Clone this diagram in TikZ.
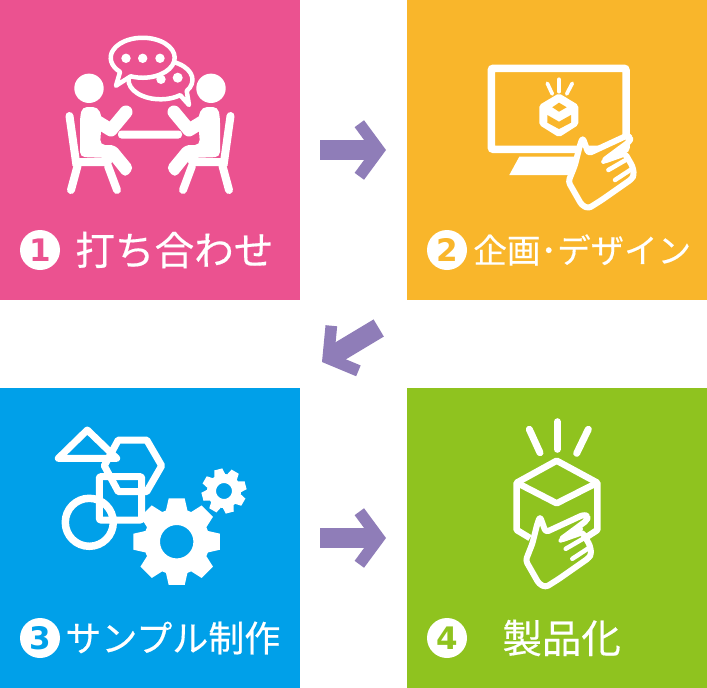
\documentclass[tikz,border=0pt]{standalone}
\usepackage{fontspec}
\setmainfont{Noto Sans CJK JP}[FakeBold=0.35]
\newfontfamily\digitfont{DejaVu Sans}
\usetikzlibrary{arrows.meta, positioning}

\definecolor{panelpink}{HTML}{EB5290}
\definecolor{panelorange}{HTML}{F9B62B}
\definecolor{panelblue}{HTML}{00A0E9}
\definecolor{panelgreen}{HTML}{8FC31F}
\definecolor{arrowpurple}{HTML}{8F7DB8}

\tikzset{
    pics/sitter/.style={code={
        \fill[white] (89,88.3) circle[radius=14.7];
        \fill[white, rounded corners=5] (80,118) -- (82,107) -- (98,107) -- (102,118) -- (100,145)
            -- (115,145) -- (134,168) -- (125,178) -- (109,158) -- (80,157) -- cycle;
        \draw[white, line width=13, line cap=round, line join=round] (93,119) -- (111,130) -- (126,112);
        \draw[white, line width=8, line cap=round] (69.5,116) -- (76,162) -- (108,162);
        \draw[white, line width=8, line cap=round] (77.5,166) -- (71,190);
        \draw[white, line width=8, line cap=round] (108,166) -- (117,190);
    }},
    pics/hand/.style={code={
        \draw[white, fill=#1, line width=6, line join=round, rounded corners=3]
            (0,0) -- (5.7,15.7) -- (44,-2) -- (48,0) -- (46.7,4) -- (20.7,23.3)
            -- (42.3,15.7) -- (50,29) -- (51.3,37.3) -- (49,41.3) -- (19,62.3) -- (5.7,70.7)
            -- (-1,67.3) -- (-14.3,44) -- (-7.7,27.3) -- (-2.7,7.3) -- cycle;
        \draw[white, line width=4.5, line cap=round] (20.7,24) -- (40.7,12.3);
        \draw[white, line width=4.5, line cap=round] (25.7,32.3) -- (45.7,20.7);
        \draw[white, line width=4.5, line cap=round] (32.3,42.3) -- (50,30.7);
    }},
    pics/gear/.style n args={3}{code={
        \fill[white, even odd rule] (-19:#2)
            \foreach \ang in {0,45,...,315} {
                -- (\ang-19:#2) -- (\ang-10.5:#1) -- (\ang+10.5:#1) -- (\ang+19:#2)
            } -- cycle
            (0,0) circle[radius=#3];
    }}
}

\begin{document}
\begin{tikzpicture}[
    x=1pt, y=-1pt,
    panel/.style={rectangle, minimum size=300pt, inner sep=0pt, outer sep=0pt},
    badge/.style={circle, fill=white, minimum size=40pt, inner sep=0pt,
        font=\digitfont\bfseries\fontsize{31}{31}\selectfont},
    caption/.style={text=white, inner sep=0pt, anchor=west},
    flowarrow/.style={draw=arrowpurple, line width=20pt,
        -{Straight Barb[length=19.4pt, width=52.6pt, line width=11.7pt]}},
    outline/.style={draw=white, line width=7pt, line join=round},
    bubble/.style={draw=white, fill=panelpink, line width=4.5pt, line join=round}
]
\useasboundingbox (0,0) rectangle (707,688);

\node (Meeting) [panel, fill=panelpink] at (150,150) {};
\node (Design) [panel, fill=panelorange] at (557,150) {};
\node (Sample) [panel, fill=panelblue] at (150,538) {};
\node (Product) [panel, fill=panelgreen] at (557,538) {};

% arrows between the panels
\coordinate (TurnStart) at (378.7,328);
\coordinate (TurnEnd) at (322,362);
\draw[flowarrow] ([xshift=20pt]Meeting.east) -- ([xshift=-21pt]Design.west);
\draw[flowarrow] (TurnStart) -- (TurnEnd);
\draw[flowarrow] ([xshift=20pt]Sample.east) -- ([xshift=-21pt]Product.west);

% meeting
\pic at (0,0) {sitter};
\pic[xscale=-1] at (300,0) {sitter};
\fill[white, rounded corners=3.5pt] (118,130.5) rectangle (182,138.5);
\draw[bubble] (186.7,91) arc[start angle=35, end angle=-308, x radius=32, y radius=19.5] -- (189,105) -- cycle;
\fill[white] (177.7,77.7) circle[radius=5];
\fill[white] (161,79.3) circle[radius=4.7];
\draw[bubble] (130.7,76.3) arc[start angle=112, end angle=-225, x radius=32, y radius=20] -- (116,85.7) -- cycle;
\foreach \dotx in {126,142.7,160}
    \fill[white] (\dotx,58.3) circle[radius=4.7];

% design
\draw[white, line width=7.5pt, rounded corners=2pt] (491.3,68.3) rectangle (626,149.3);
\fill[white] (519.3,156.7) -- (576.7,156.7) -- (575,175) -- (509.3,175) -- cycle;
\fill[white, rounded corners=2pt] (559,93.3) -- (578.3,105) -- (578.3,125) -- (559,137.3) -- (539.3,125) -- (539.3,105) -- cycle;
\fill[panelorange] (552.3,107.3) -- (559,102.7) -- (566.7,107.3) -- (559,111.7) -- cycle;
\fill[panelorange] (547.3,115) -- (559,121.7) -- (571,115) -- (571,122.7) -- (559,129) -- (547.3,122.7) -- cycle;
\draw[white, line width=3.7pt, line cap=round] (547.3,83.3) -- (552.3,94);
\draw[white, line width=3.7pt, line cap=round] (559,79.3) -- (559,91.7);
\draw[white, line width=3.7pt, line cap=round] (572.3,83.3) -- (566.7,94);
\pic at (582.7,137.7) {hand=panelorange};

% sample
\draw[outline] (87.3,430) -- (58.3,458.3) -- (116.7,458.3) -- cycle;
\draw[outline] (118.3,440) -- (146.7,440) -- (161.7,465.7) -- (146.7,491.7) -- (118.3,491.7) -- (104.3,465.7) -- cycle;
\draw[outline, rounded corners=1pt] (99.3,476.7) rectangle (141.7,520);
\draw[draw=white, line width=7.5pt] (89.3,522.3) circle[radius=24];
\pic at (176.7,541.7) {gear={44}{33}{16.7}};
\pic[rotate=15] at (224,491) {gear={22.7}{17}{8}};

% product
\draw[draw=white, line width=6.5pt, line join=round] (530,538) -- (516.7,530) -- (516.7,482.7) -- (556.7,460.7) -- (597.3,482.7) -- (597.3,530) -- (586.7,537);
\draw[draw=white, line width=6.5pt, line join=round] (516.7,482.7) -- (556.7,503.3) -- (597.3,482.7);
\draw[white, line width=7pt, line cap=round] (529.3,429.3) -- (540,452.7);
\draw[white, line width=7pt, line cap=round] (557.3,421.7) -- (557.3,449.3);
\draw[white, line width=7pt, line cap=round] (588.3,429.3) -- (576.7,453.3);
\pic at (540,516.5) {hand=panelgreen};

% captions
\node (BadgeOne) [badge, text=panelpink] at (40,250) {1};
\node (BadgeTwo) [badge, text=panelorange] at (447,250) {2};
\node (BadgeThree) [badge, text=panelblue] at (40,638) {3};
\node (BadgeFour) [badge, text=panelgreen] at (447,638) {4};
\node (CaptionOne) [caption, font=\fontsize{39.6}{39.6}\selectfont, right=15pt of BadgeOne] {打ち合わせ};
\node (CaptionTwo) [caption, font=\fontsize{33.5}{33.5}\selectfont, right=6pt of BadgeTwo] {企画･デザイン};
\node (CaptionThree) [caption, font=\fontsize{36}{36}\selectfont, right=5pt of BadgeThree] {サンプル制作};
\node (CaptionFour) [caption, font=\fontsize{39.5}{39.5}\selectfont, right=35pt of BadgeFour] {製品化};

\end{tikzpicture}
\end{document}
